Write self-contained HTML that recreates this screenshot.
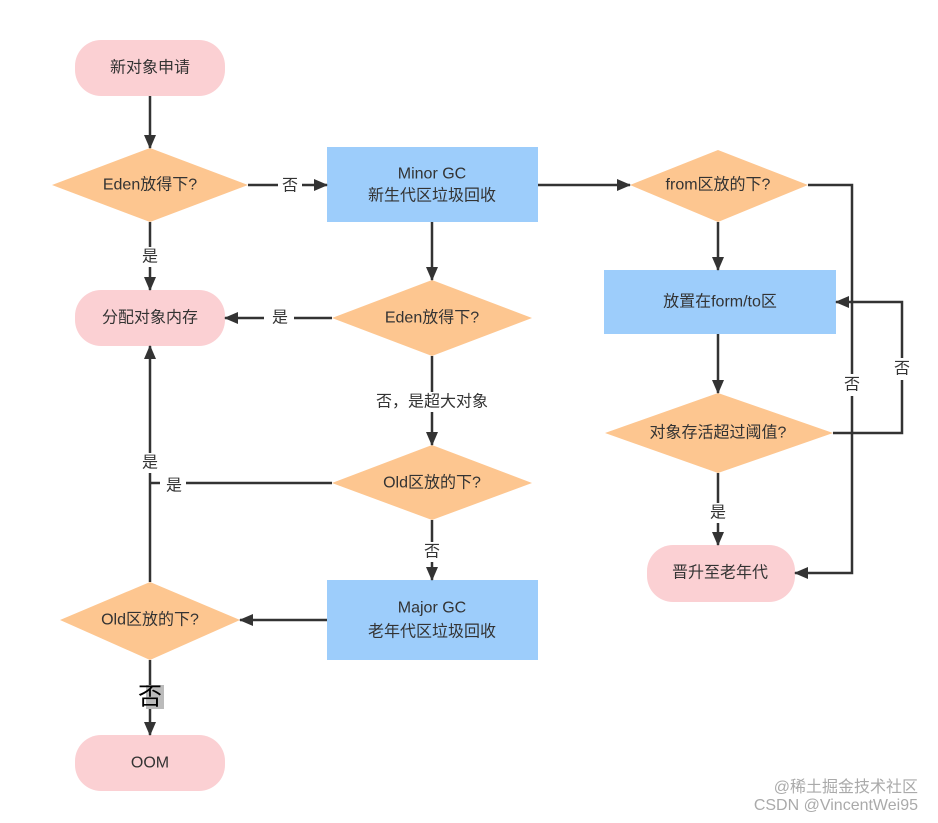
<!DOCTYPE html>
<html><head><meta charset="utf-8"><style>
html,body{margin:0;padding:0;background:#fff;}
svg text{font-family:"Liberation Sans","Noto Sans CJK SC",sans-serif;}
</style></head><body>
<svg width="938" height="818" viewBox="0 0 938 818" xmlns="http://www.w3.org/2000/svg">
<defs>
<marker id="a" markerWidth="10" markerHeight="10" refX="9" refY="5" orient="auto" markerUnits="userSpaceOnUse">
<path d="M0,0 L10,5 L0,10 Z" fill="#333"/></marker>
<marker id="b" markerWidth="14" markerHeight="14" refX="13" refY="7" orient="auto" markerUnits="userSpaceOnUse">
<path d="M0,1 L14,7 L0,13 Z" fill="#333"/></marker>
</defs>
<g fill="#fbd0d3">
<rect x="75" y="40" width="150" height="56" rx="26"/>
<rect x="75" y="290" width="150" height="56" rx="26"/>
<rect x="75" y="735" width="150" height="56" rx="26"/>
<rect x="647" y="545" width="148" height="57" rx="26"/>
</g>
<g fill="#fdc690">
<polygon points="52,185 150,148 248,185 150,222"/>
<polygon points="332,318 432,280 532,318 432,356"/>
<polygon points="332,483 432,445 532,483 432,520"/>
<polygon points="60,620 150,582 240,620 150,660"/>
<polygon points="630,185 718,150 808,185 718,222"/>
<polygon points="605,433 718,393 833,433 718,473"/>
</g>
<g fill="#9dcdfb">
<rect x="327" y="147" width="211" height="75"/>
<rect x="327" y="580" width="211" height="80"/>
<rect x="604" y="270" width="232" height="64"/>
</g>
<g stroke="#333" stroke-width="2.5" fill="none">
<line x1="150" y1="96" x2="150" y2="148" marker-end="url(#b)"/>
<line x1="248" y1="185" x2="327" y2="185" marker-end="url(#b)"/>
<line x1="150" y1="222" x2="150" y2="290" marker-end="url(#b)"/>
<line x1="432" y1="222" x2="432" y2="280" marker-end="url(#b)"/>
<line x1="332" y1="318" x2="225" y2="318" marker-end="url(#b)"/>
<line x1="432" y1="356" x2="432" y2="445" marker-end="url(#b)"/>
<line x1="432" y1="520" x2="432" y2="580" marker-end="url(#b)"/>
<line x1="332" y1="483" x2="150" y2="483"/>
<line x1="150" y1="582" x2="150" y2="346" marker-end="url(#b)"/>
<line x1="327" y1="620" x2="240" y2="620" marker-end="url(#b)"/>
<line x1="150" y1="660" x2="150" y2="735" marker-end="url(#b)"/>
<line x1="538" y1="185" x2="630" y2="185" marker-end="url(#b)"/>
<line x1="718" y1="222" x2="718" y2="270" marker-end="url(#b)"/>
<polyline points="808,185 852,185 852,573 795,573" marker-end="url(#b)"/>
<line x1="718" y1="334" x2="718" y2="393" marker-end="url(#b)"/>
<polyline points="833,433 902,433 902,302 836,302" marker-end="url(#b)"/>
<line x1="718" y1="473" x2="718" y2="545" marker-end="url(#b)"/>
</g>
<g fill="#fff">
<rect x="278" y="175" width="24" height="20"/>
<rect x="140" y="247" width="20" height="20"/>
<rect x="264" y="308" width="30" height="20"/>
<rect x="360" y="392" width="144" height="20"/>
<rect x="422" y="542" width="20" height="20"/>
<rect x="160" y="476" width="26" height="20"/>
<rect x="140" y="453" width="20" height="20"/>
<rect x="708" y="503" width="20" height="20"/>
<rect x="842" y="374" width="20" height="22"/>
<rect x="892" y="358" width="20" height="22"/>
</g>
<rect x="146" y="685" width="18" height="24" fill="#bbb"/>
<g font-size="16" fill="#333" text-anchor="middle" dominant-baseline="central">
<text x="290" y="186">否</text>
<text x="150" y="257">是</text>
<text x="280" y="318">是</text>
<text x="432" y="402">否，是超大对象</text>
<text x="432" y="552">否</text>
<text x="174" y="486">是</text>
<text x="150" y="463">是</text>
<text x="718" y="513">是</text>
<text x="852" y="385">否</text>
<text x="902" y="369">否</text>
<text x="150" y="697" font-size="24" fill="#000">否</text>
</g>
<g font-size="16" fill="#333" text-anchor="middle" dominant-baseline="central">
<text x="150" y="68">新对象申请</text>
<text x="150" y="185">Eden放得下?</text>
<text x="432" y="174">Minor GC</text>
<text x="432" y="196">新生代区垃圾回收</text>
<text x="718" y="185">from区放的下?</text>
<text x="150" y="318">分配对象内存</text>
<text x="432" y="318">Eden放得下?</text>
<text x="720" y="302">放置在form/to区</text>
<text x="718" y="433">对象存活超过阈值?</text>
<text x="432" y="483">Old区放的下?</text>
<text x="720" y="573">晋升至老年代</text>
<text x="150" y="620">Old区放的下?</text>
<text x="432" y="608">Major GC</text>
<text x="432" y="632">老年代区垃圾回收</text>
<text x="150" y="763">OOM</text>
</g>
<g font-size="16" fill="#aaa" text-anchor="end">
<text x="918" y="792">@稀土掘金技术社区</text>
<text x="918" y="810">CSDN @VincentWei95</text>
</g>
</svg>
</body></html>
